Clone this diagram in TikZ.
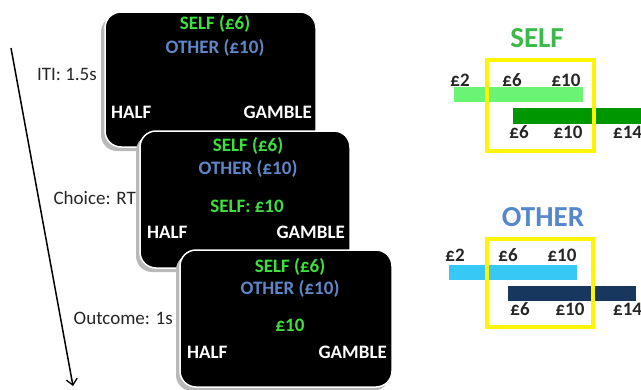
\documentclass[tikz,border=0pt]{standalone}
\usepackage{fontspec}
\setmainfont{Carlito}
\usetikzlibrary{arrows.meta}
\definecolor{scrgreen}{RGB}{60,225,60}
\definecolor{scrblue}{RGB}{95,135,200}
\definecolor{ttlgreen}{RGB}{60,185,75}
\definecolor{ttlblue}{RGB}{85,135,205}
\definecolor{lgreen}{RGB}{105,245,115}
\definecolor{dgreen}{RGB}{0,150,0}
\definecolor{lblue}{RGB}{55,200,245}
\definecolor{navy}{RGB}{23,55,94}
\definecolor{ylw}{RGB}{255,245,0}
\definecolor{shad}{RGB}{185,185,185}
\tikzset{
  screen/.style={fill=black,draw=white,line width=1.5pt,rounded corners=16pt},
  shadow/.style={fill=shad,rounded corners=16pt},
  st/.style={font=\fontsize{19}{22}\selectfont\bfseries,inner sep=0pt},
  lab/.style={font=\fontsize{19}{22}\selectfont,inner sep=0pt,text=black!85},
  val/.style={font=\fontsize{19}{22}\selectfont\bfseries,inner sep=0pt,text=black!85},
  ttl/.style={font=\fontsize{29}{33}\selectfont\bfseries,inner sep=0pt},
  ybox/.style={draw=ylw,line width=4pt}
}
\begin{document}
\begin{tikzpicture}[x=1pt,y=-1pt]
\useasboundingbox (0,0) rectangle (641,389);
% screen 1
\fill[shadow] (101,16) rectangle (313,151);
\draw[screen] (105,12) rectangle (316,147);
\node[st,text=scrgreen] (s1a) at (215,24) {SELF (£6)};
\node[st,text=scrblue] (s1b) at (215,48) {OTHER (£10)};
\node[st,text=white,anchor=west] (s1h) at (111,112) {HALF};
\node[st,text=white,anchor=east] (s1g) at (312,112) {GAMBLE};
% screen 2
\fill[shadow] (136,135) rectangle (347,272);
\draw[screen] (140,131) rectangle (350,268);
\node[st,text=scrgreen] (s2a) at (248,146) {SELF (£6)};
\node[st,text=scrblue] (s2b) at (248,169) {OTHER (£10)};
\node[st,text=scrgreen] (s2c) at (247,206) {SELF: £10};
\node[st,text=white,anchor=west] (s2h) at (147,232) {HALF};
\node[st,text=white,anchor=east] (s2g) at (345,232) {GAMBLE};
% screen 3
\fill[shadow] (176,254) rectangle (389,391);
\draw[screen] (180,250) rectangle (392,387);
\node[st,text=scrgreen] (s3a) at (290,267) {SELF (£6)};
\node[st,text=scrblue] (s3b) at (290,289) {OTHER (£10)};
\node[st,text=scrgreen] (s3c) at (290,325) {£10};
\node[st,text=white,anchor=west] (s3h) at (187,352) {HALF};
\node[st,text=white,anchor=east] (s3g) at (387,352) {GAMBLE};
% left labels
\node[lab,anchor=east] (l1) at (97,74) {ITI: 1.5s};
\node[lab,anchor=east] (l2) at (136,198) {Choice: RT};
\node[lab,anchor=east] (l3) at (173,318) {Outcome: 1s};
% time arrow
\coordinate (ts) at (11,48);
\coordinate (te) at (73,386);
\draw[line width=1.5pt,-{Straight Barb[length=6pt,width=11pt,line width=1.3pt]}] (ts) -- (te);
% SELF panel
\node[ttl,text=ttlgreen] (tself) at (537,38) {SELF};
\fill[lgreen] (454,87) rectangle (583,102);
\fill[dgreen] (513,108) rectangle (641,124);
\draw[ybox] (487,60) rectangle (594,151);
\node[val] (a1) at (460,80) {£2};
\node[val] (a2) at (512,80) {£6};
\node[val] (a3) at (566,80) {£10};
\node[val] (b1) at (519,132) {£6};
\node[val] (b2) at (568,132) {£10};
\node[val,anchor=west] (b3) at (613,132) {£14};
% OTHER panel
\node[ttl,text=ttlblue] (tother) at (543,217) {OTHER};
\fill[lblue] (449,265) rectangle (577,280);
\fill[navy] (508,286) rectangle (636,301);
\draw[ybox] (487,239) rectangle (593,327);
\node[val] (c1) at (455,255) {£2};
\node[val] (c2) at (508,255) {£6};
\node[val] (c3) at (562,255) {£10};
\node[val] (d1) at (520,309) {£6};
\node[val] (d2) at (570,309) {£10};
\node[val,anchor=west] (d3) at (613,309) {£14};
\end{tikzpicture}
\end{document}
